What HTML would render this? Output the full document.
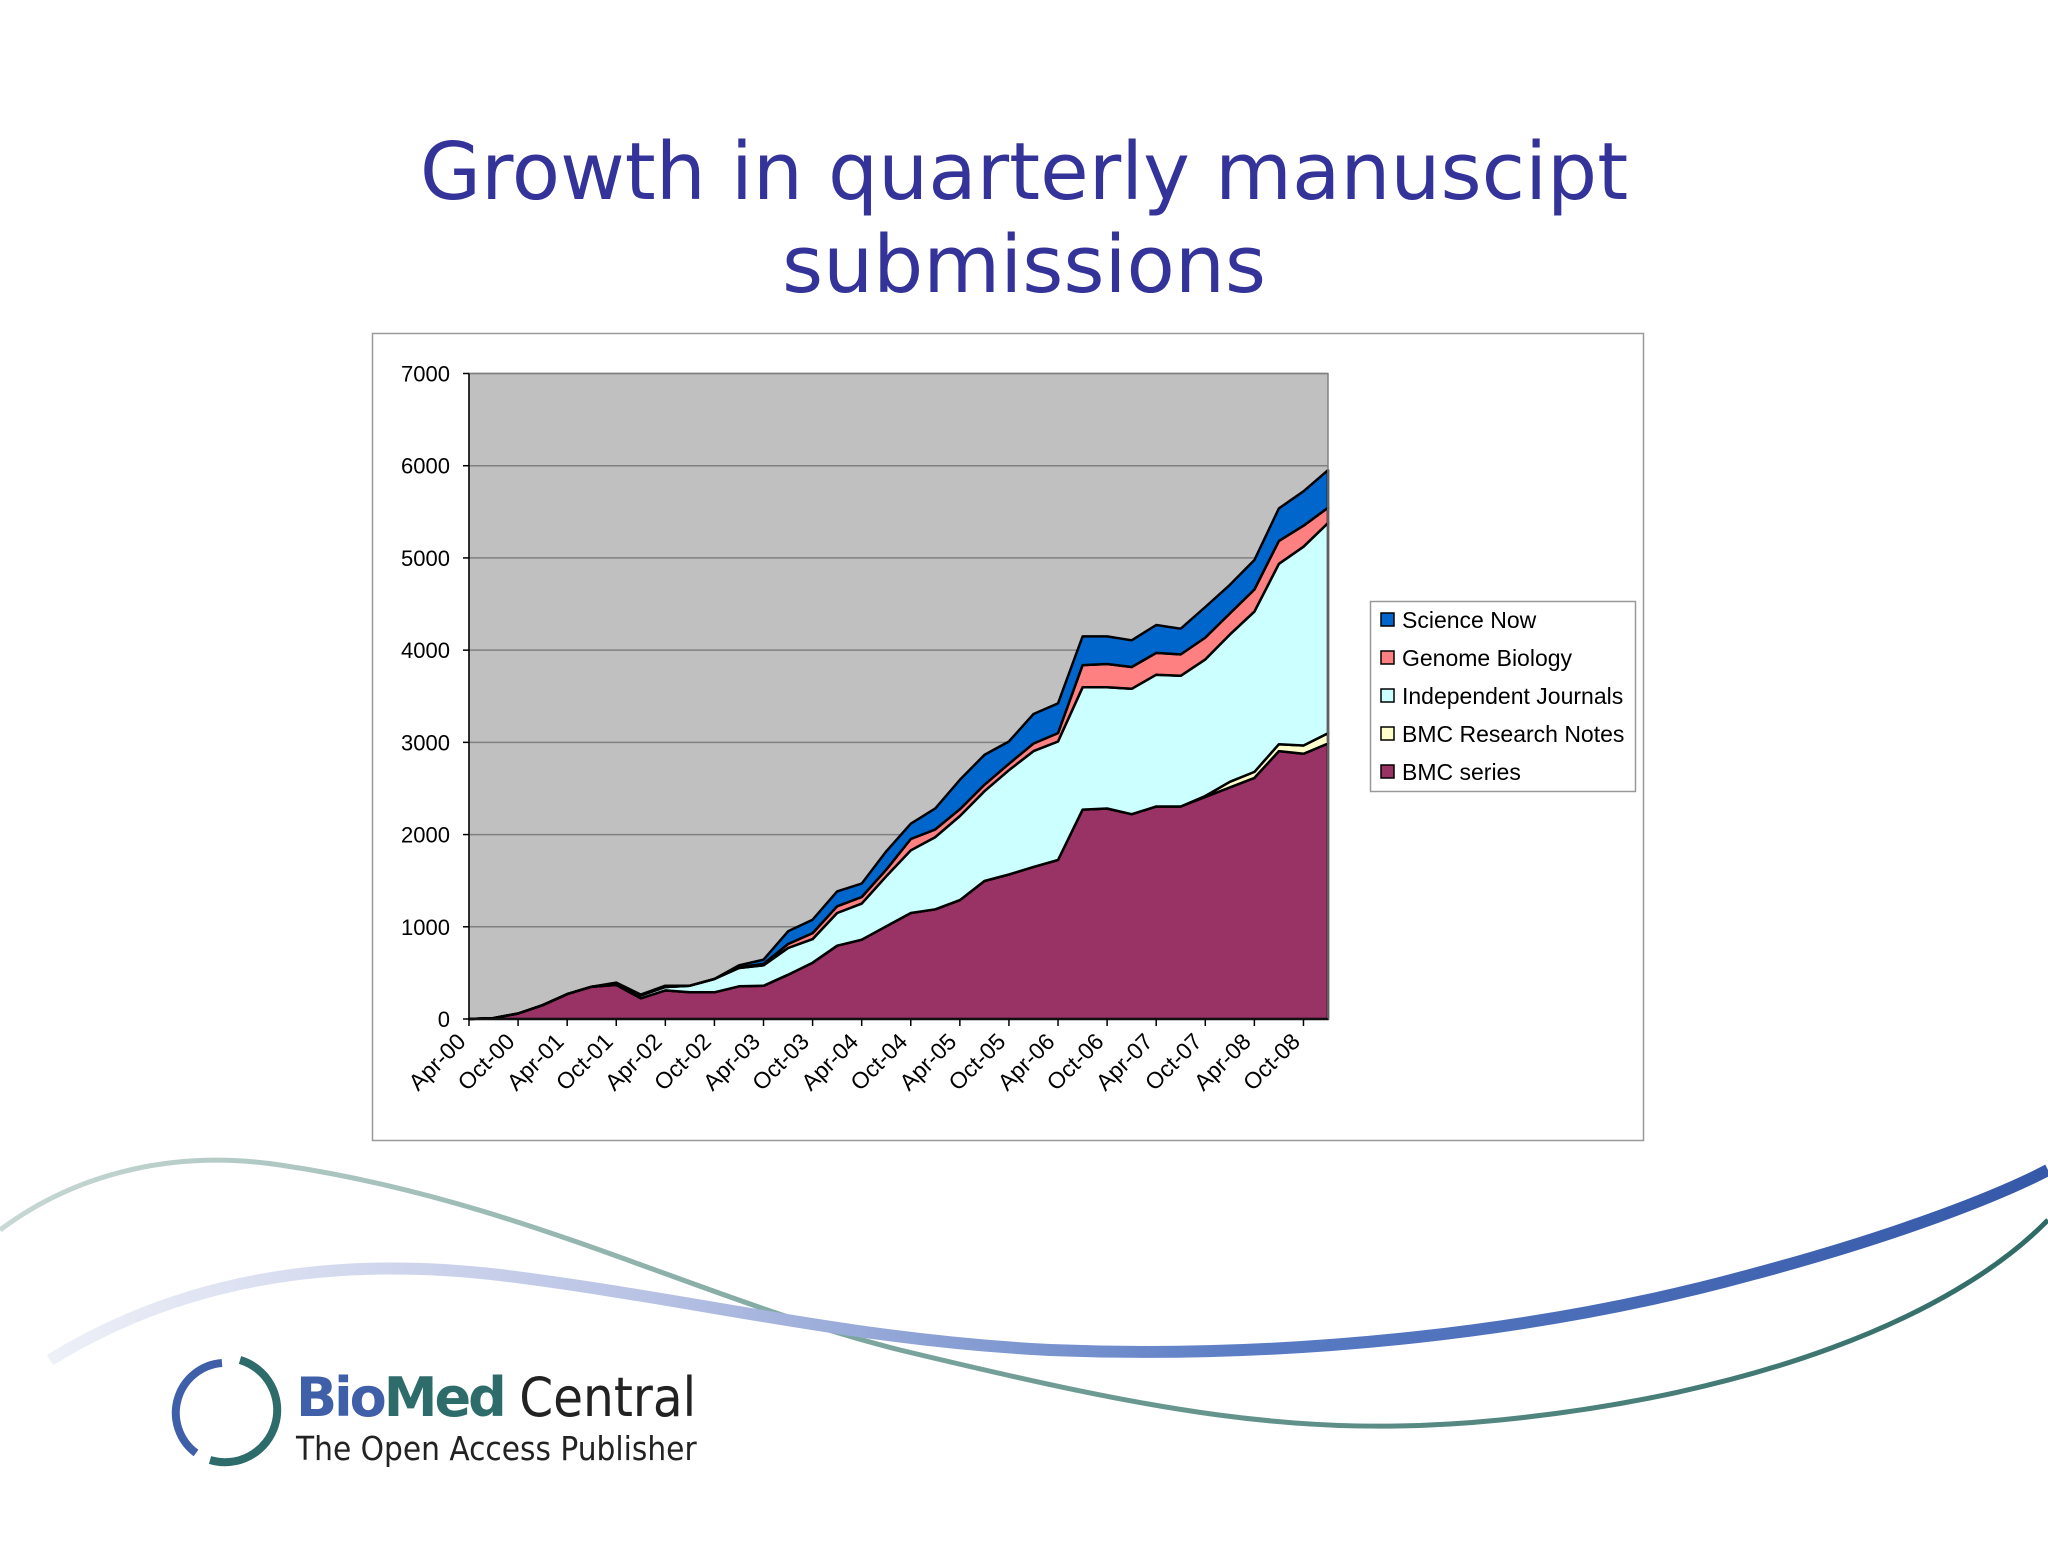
<!DOCTYPE html>
<html><head><meta charset="utf-8">
<style>
html,body{margin:0;padding:0;background:#fff;}
body{width:2048px;height:1536px;position:relative;overflow:hidden;font-family:"Liberation Sans",sans-serif;}
</style></head>
<body>
<svg id="chart" width="2048" height="1536" xmlns="http://www.w3.org/2000/svg">
  <defs>
    <linearGradient id="gThin" x1="0" x2="1" y1="0" y2="0">
      <stop offset="0" stop-color="#c8d8d4"/>
      <stop offset="0.4" stop-color="#7fa8a0"/>
      <stop offset="1" stop-color="#2f6a66"/>
    </linearGradient>
    <linearGradient id="gThick" x1="0" x2="1" y1="0" y2="0">
      <stop offset="0" stop-color="#eef0f8"/>
      <stop offset="0.3" stop-color="#b8c2e4"/>
      <stop offset="0.6" stop-color="#5a7cc4"/>
      <stop offset="1" stop-color="#3558a8"/>
    </linearGradient>
  </defs>
  <g fill="none">
    <path d="M0,1230 C80,1170 180,1150 280,1165 C520,1200 700,1300 900,1350 C1150,1410 1300,1440 1500,1420 C1750,1395 1950,1320 2048,1220" stroke="url(#gThin)" stroke-width="5"/>
    <path d="M50,1360 C180,1280 330,1255 500,1275 C700,1300 850,1340 1050,1350 C1300,1360 1550,1330 1750,1275 C1900,1235 2000,1195 2048,1170" stroke="url(#gThick)" stroke-width="12"/>
  </g>
  <text x="1024" y="199" text-anchor="middle" font-family="DejaVu Sans, sans-serif" font-size="79" fill="#333399">Growth in quarterly manuscipt</text>
  <text x="1024" y="292" text-anchor="middle" font-family="DejaVu Sans, sans-serif" font-size="79" fill="#333399">submissions</text>
  <rect x="372.5" y="333.5" width="1271" height="807" fill="#fff" stroke="#999" stroke-width="1.5"/>
  <rect x="469" y="373.5" width="859" height="645.5" fill="#c0c0c0"/>
  <g id="grid"></g>
  <g id="areas"></g>
  <rect x="469" y="373.5" width="859" height="645.5" fill="none" stroke="#808080" stroke-width="1.5"/>
  <g id="yaxis"></g>
  <g id="xaxis"></g>
  <g>
    <rect x="1370.5" y="601.5" width="265" height="190" fill="#fff" stroke="#999" stroke-width="1.5"/>
    <g id="legend-items"></g>
  </g>
  <g>
    <path d="M222,1363 A50,50 0 0 0 196,1453" fill="none" stroke="#3f5fa8" stroke-width="8"/>
    <path d="M240,1360 A50,50 0 0 1 210,1460" fill="none" stroke="#2e6b6b" stroke-width="8"/>
    <text x="296" y="1416" font-family="DejaVu Sans, sans-serif" font-size="54"><tspan font-weight="bold" fill="#3f5fa8" letter-spacing="-3">Bio</tspan><tspan font-weight="bold" fill="#2e6b6b" letter-spacing="-3">Med</tspan><tspan fill="#222" font-family="DejaVu Sans Condensed, DejaVu Sans, sans-serif"> Central</tspan></text>
    <text x="296" y="1460" font-family="DejaVu Sans Condensed, DejaVu Sans, sans-serif" font-size="33" fill="#222">The Open Access Publisher</text>
  </g>
</svg>
<script>
const categories = ["Apr-00","Jul-00","Oct-00","Jan-01","Apr-01","Jul-01","Oct-01","Jan-02","Apr-02","Jul-02","Oct-02","Jan-03","Apr-03","Jul-03","Oct-03","Jan-04","Apr-04","Jul-04","Oct-04","Jan-05","Apr-05","Jul-05","Oct-05","Jan-06","Apr-06","Jul-06","Oct-06","Jan-07","Apr-07","Jul-07","Oct-07","Jan-08","Apr-08","Jul-08","Oct-08","Jan-09"];
const bmcSeries = [0,10,60,150,270,350,370,225,310,290,290,355,360,480,610,795,860,1005,1150,1190,1289,1496,1567,1649,1724,2271,2283,2221,2304,2304,2408,2512,2615,2905,2876,2988];
const researchNotes = [0,0,0,0,0,0,0,0,0,0,0,0,0,0,0,0,0,0,0,0,0,0,0,0,0,0,0,0,0,0,10,60,65,75,90,110];
const independentJournals = [0,0,0,0,0,0,15,30,37,71,144,198,222,290,257,354,391,542,679,783,912,974,1131,1256,1285,1326,1314,1360,1430,1418,1482,1597,1738,1956,2156,2281];
const genomeBiology = [0,0,0,0,0,0,0,0,0,0,0,10,15,43,65,73,72,72,123,83,74,70,70,83,91,241,253,236,236,232,236,228,240,249,228,166];
const scienceNow = [0,0,0,0,0,0,10,10,14,0,0,19,46,138,145,162,145,199,166,228,319,324,241,319,323,311,299,290,303,278,332,311,319,352,373,406];
const yTicks = [0,1000,2000,3000,4000,5000,6000,7000];
const xTickLabels = ["Apr-00","Oct-00","Apr-01","Oct-01","Apr-02","Oct-02","Apr-03","Oct-03","Apr-04","Oct-04","Apr-05","Oct-05","Apr-06","Oct-06","Apr-07","Oct-07","Apr-08","Oct-08"];
const seriesNames = ["BMC series","BMC Research Notes","Independent Journals","Genome Biology","Science Now"];

const NS="http://www.w3.org/2000/svg";
const PX0=469,PX1=1328,PY0=1019,PY1=373.5,YMAX=7000;
function xs(i){return PX0+i*(PX1-PX0)/(categories.length-1);}
function ys(v){return PY0-v/YMAX*(PY0-PY1);}
function mk(tag,attrs,parent){const e=document.createElementNS(NS,tag);for(const k in attrs)e.setAttribute(k,attrs[k]);parent.appendChild(e);return e;}

const grid=document.getElementById('grid');
yTicks.forEach(t=>{if(t===0)return;const l=mk('line',{x1:PX0,x2:PX1,y1:ys(t),y2:ys(t),stroke:'#808080','stroke-width':1.5},grid);

});

const series=[bmcSeries,researchNotes,independentJournals,genomeBiology,scienceNow];
const colors=["#993366","#FFFFCC","#CCFFFF","#FF8080","#0066CC"];
const slugs=["bmc-series","bmc-research-notes","independent-journals","genome-biology","science-now"];
const areas=document.getElementById('areas');
let base=categories.map(()=>0);
series.forEach((s,k)=>{
  const top=base.map((b,i)=>b+s[i]);
  let d='';
  top.forEach((v,i)=>{d+=(i?'L':'M')+xs(i).toFixed(1)+','+ys(v).toFixed(1);});
  for(let i=base.length-1;i>=0;i--)d+='L'+xs(i).toFixed(1)+','+ys(base[i]).toFixed(1);
  d+='Z';
  const p=mk('path',{d:d,fill:colors[k],stroke:'#000','stroke-width':2.5,'stroke-linejoin':'round'},areas);
  
  
  base=top;
});

const ya=document.getElementById('yaxis');
mk('line',{x1:PX0,x2:PX0,y1:PY1,y2:PY0,stroke:'#000','stroke-width':1.5},ya);
yTicks.forEach(t=>{
  const tk=mk('line',{x1:PX0-6,x2:PX0,y1:ys(t),y2:ys(t),stroke:'#000','stroke-width':1.5},ya);
  
  
  const tx=mk('text',{x:450,y:ys(t)+8,'text-anchor':'end','font-size':22,fill:'#000'},ya);
  tx.textContent=t;
  
  
});
const xa=document.getElementById('xaxis');
mk('line',{x1:PX0,x2:PX1,y1:PY0,y2:PY0,stroke:'#000','stroke-width':1.5},xa);
xTickLabels.forEach((lab,j)=>{
  const x=xs(j*2);
  const tk=mk('line',{x1:x,x2:x,y1:PY0,y2:PY0+7,stroke:'#000','stroke-width':1.5},xa);
  
  
  const tx=mk('text',{x:x-2,y:PY0+24,'text-anchor':'end','font-size':23,fill:'#000',transform:'rotate(-45 '+(x-2)+' '+(PY0+24)+')'},xa);
  tx.textContent=lab;
  
  
});

const li=document.getElementById('legend-items');
[4,3,2,1,0].forEach((k,r)=>{
  const y=620+r*38;
  const g=mk('g',{},li);
  
  
  mk('rect',{x:1381,y:y-7,width:13,height:13,fill:colors[k],stroke:'#000','stroke-width':1.5},g);
  const t=mk('text',{x:1402,y:y+8,'font-size':23,fill:'#000'},g);
  t.textContent=seriesNames[k];
});
</script>
</body></html>
